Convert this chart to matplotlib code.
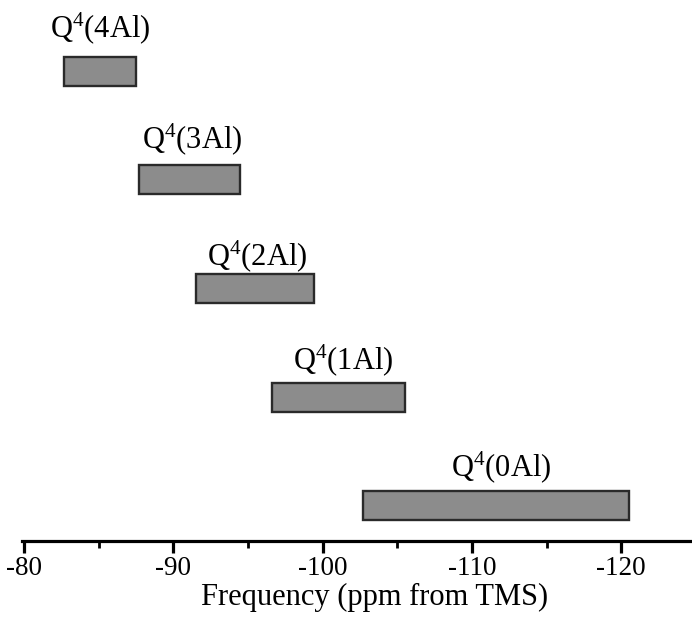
import matplotlib
matplotlib.use("Agg")
import matplotlib.pyplot as plt
from matplotlib.ticker import MultipleLocator

plt.rcParams['font.family'] = ['Liberation Serif', 'DejaVu Serif']
plt.rcParams['mathtext.fontset'] = 'custom'
plt.rcParams['mathtext.rm'] = 'Liberation Serif'
plt.rcParams['mathtext.it'] = 'Liberation Serif:italic'

# Data (top to bottom)
labels = [r'Q$^4$(4Al)', r'Q$^4$(3Al)', r'Q$^4$(2Al)', r'Q$^4$(1Al)', r'Q$^4$(0Al)']
starts = [-82.7, -87.7, -91.5, -96.6, -102.7]   # ppm
ends = [-87.5, -94.5, -99.4, -105.5, -120.5]    # ppm
xticks = [-80, -90, -100, -110, -120]

# styling
W, H = 692, 625
fig = plt.figure(figsize=(W / 100, H / 100), dpi=100)
ax = fig.add_axes([22 / W, 1 - 540.5 / H, 1 - 22 / W + 0.01, 540.5 / H])

n = len(labels)
rows = [n - 1 - i for i in range(n)]
bar_h = 0.267
for r, s, e in zip(rows, starts, ends):
    ax.barh(r, s - e, left=e, height=bar_h, color='#8c8c8c',
            edgecolor='#2a2a2a', linewidth=1.7)

# label offsets (px): dx, gap from bar top to baseline
label_dx = [0, 2, 3, 5, 5]
label_gap = [20, 17, 9, 13, 15]
for r, s, e, lab, dx, gap in zip(rows, starts, ends, labels, label_dx, label_gap):
    ax.annotate(lab, xy=((s + e) / 2, r + bar_h / 2), xycoords='data',
                xytext=(dx * 0.72, gap * 0.72), textcoords='offset points',
                ha='center', va='baseline', fontsize=22)

ax.set_xlim(-79.87, -125.2)
ax.set_ylim(-0.32, 4.657)
ax.set_xticks(xticks)
ax.set_xticklabels([str(t) for t in xticks])
ax.xaxis.set_minor_locator(MultipleLocator(5))
ax.set_yticks([])
for sp in ['top', 'right', 'left']:
    ax.spines[sp].set_visible(False)
ax.spines['bottom'].set_linewidth(2.3)
ax.tick_params(axis='x', which='major', direction='out', length=8.6, width=2.3,
               labelsize=19.5, pad=2.5)
ax.tick_params(axis='x', which='minor', direction='out', length=4.7, width=2.0)

fig.text(375 / W, 1 - 605 / H, 'Frequency (ppm from TMS)', ha='center',
         va='baseline', fontsize=22)

fig.savefig('out.png', dpi=100)
